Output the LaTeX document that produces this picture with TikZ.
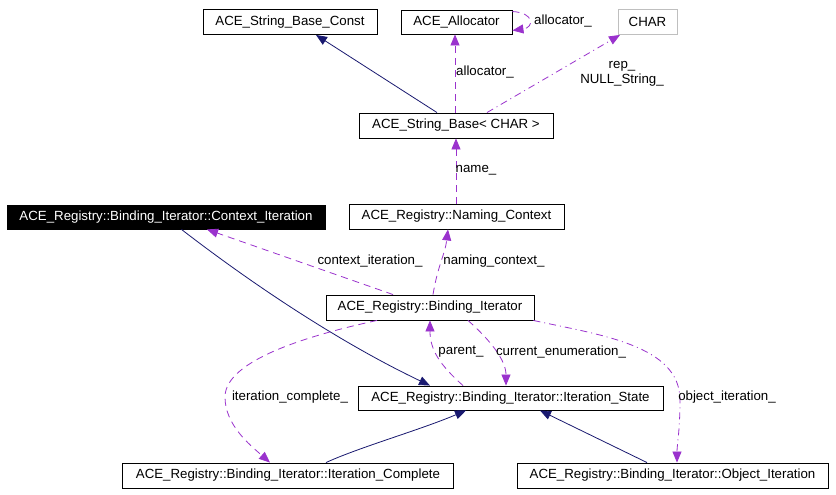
\documentclass[tikz,border=0pt]{standalone}
\usepackage{fontspec}
\setmainfont{Liberation Sans}
\usetikzlibrary{arrows.meta,calc}
\definecolor{navy}{HTML}{191970}
\definecolor{purp}{HTML}{9A32CD}
\definecolor{graybd}{HTML}{BFBFBF}
\tikzset{
  txt/.style={font=\fontsize{13.28}{15}\selectfont},
  cls/.style={txt, draw=black, line width=0.9pt, fill=white, inner sep=0pt, minimum height=25pt},
  lbl/.style={txt, inner sep=0pt},
  tip/.style={-{Triangle[length=11pt,width=9pt]}},
  inh/.style={tip, draw=navy, line width=0.8pt},
  use/.style={tip, draw=purp, line width=0.8pt, dash pattern=on 7pt off 5pt},
  usedot/.style={tip, draw=purp, line width=0.8pt, dash pattern=on 7pt off 4pt on 1pt off 4pt}
}
\begin{document}
\begin{tikzpicture}[x=1pt,y=-1pt]
\useasboundingbox[fill=white] (0,0) rectangle (836,495);

% classes
\node[cls, minimum width=174pt] (const) at (290,22) {ACE\_String\_Base\_Const};
\node[cls, minimum width=111pt, minimum height=24pt] (alloc) at (456.5,22) {ACE\_Allocator};
\node[cls, minimum width=59pt, draw=graybd] (char) at (647.5,22) {CHAR};
\node[cls, minimum width=194pt] (sb) at (456,125.5) {ACE\_String\_Base< CHAR >};
\node[cls, minimum width=318pt, minimum height=24pt, fill=black, text=white] (ctx) at (166,217) {ACE\_Registry::Binding\_Iterator::Context\_Iteration};
\node[cls, minimum width=215pt] (naming) at (456.5,216.5) {ACE\_Registry::Naming\_Context};
\node[cls, minimum width=208pt] (bind) at (430,307.5) {ACE\_Registry::Binding\_Iterator};
\node[cls, minimum width=305pt, minimum height=24pt] (state) at (510.5,398) {ACE\_Registry::Binding\_Iterator::Iteration\_State};
\node[cls, minimum width=331pt] (comp) at (288,475.5) {ACE\_Registry::Binding\_Iterator::Iteration\_Complete};
\node[cls, minimum width=311pt] (obj) at (672.5,475.5) {ACE\_Registry::Binding\_Iterator::Object\_Iteration};

% connectors
\draw[inh] ([xshift=-19pt]sb.north) -- ([xshift=26pt]const.south);
\draw[use] ([xshift=-1pt]sb.north) -- ([xshift=-1.5pt]alloc.south);
\draw[use] ([yshift=-2pt]alloc.north east) .. controls +(22pt,-1pt) and +(22pt,3pt) .. ([yshift=4pt]alloc.south east);
\draw[usedot] ([xshift=31pt]sb.north) -- ([xshift=-27.5pt]char.south);
\draw[use] ([xshift=-0.5pt]naming.north) -- (sb.south);
\draw[use] ([xshift=-37pt]bind.north) -- ([xshift=41pt]ctx.south);
\draw[use] ([xshift=3pt]bind.north) .. controls +(5,-30) and +(-3,25) .. ([xshift=-8.5pt]naming.south);
\draw[inh] ([xshift=15.5pt]ctx.south) .. controls (260,290) and (345,345) .. ([xshift=-80.5pt]state.north);
\draw[use] ([xshift=-53pt]bind.south) .. controls (310,335) and (225,360) .. (225,397) .. controls (225,425) and (250,445) .. ([xshift=-18pt]comp.north);
\draw[use] ([xshift=-47.5pt]state.north) .. controls (440,365) and (430,350) .. (bind.south);
\draw[use] ([xshift=38pt]bind.south) .. controls (490,340) and (506,360) .. ([xshift=-4.5pt]state.north);
\draw[usedot] ([xshift=-1pt]bind.south east) .. controls (600,335) and (680,345) .. (680,400) .. controls (680,430) and (677,445) .. ([xshift=4.5pt]obj.north);
\draw[inh] ([xshift=38pt]comp.north) .. controls (360,447) and (420,430) .. ([xshift=-44.5pt]state.south);
\draw[inh] ([xshift=-25.5pt]obj.north) -- ([xshift=29.5pt]state.south);

% labels
\node[lbl] (l1) at (563,21) {allocator\_};
\node[lbl] (l2) at (485,72) {allocator\_};
\node[lbl, align=center] (l3) at (622,73.5) {rep\_\\NULL\_String\_};
\node[lbl] (l4) at (476,170) {name\_};
\node[lbl] (l5) at (370,261) {context\_iteration\_};
\node[lbl] (l6) at (494,261) {naming\_context\_};
\node[lbl] (l7) at (290,397) {iteration\_complete\_};
\node[lbl] (l8) at (461,352) {parent\_};
\node[lbl] (l9) at (561,352) {current\_enumeration\_};
\node[lbl] (l10) at (727,397) {object\_iteration\_};
\end{tikzpicture}
\end{document}
